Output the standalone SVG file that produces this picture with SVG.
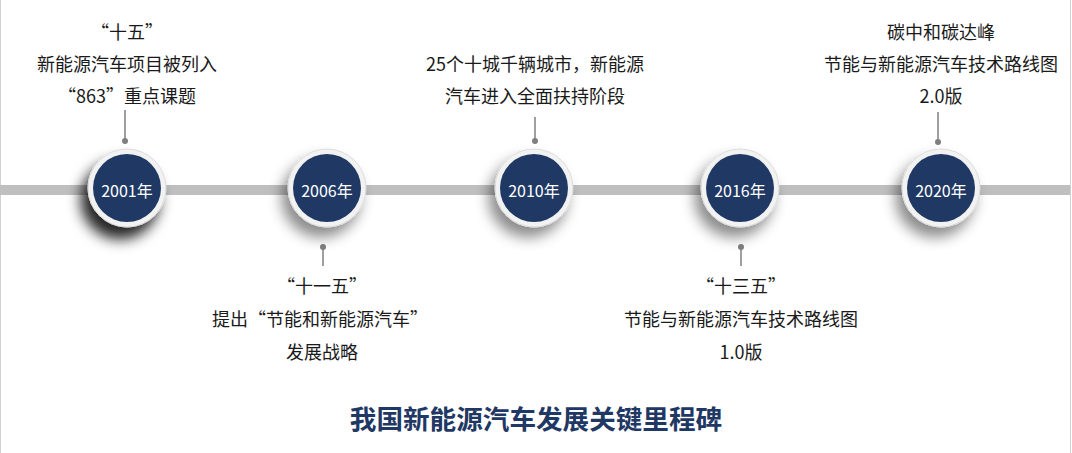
<svg xmlns="http://www.w3.org/2000/svg" width="1072" height="453" viewBox="0 0 1072 453">
<defs>
<style>
.lbl{font-family:"Noto Sans CJK SC","Microsoft YaHei",sans-serif;font-size:18px;fill:#1a1a1a;text-anchor:middle}
.yr{font-family:"Noto Sans CJK SC",sans-serif;font-size:16px;fill:#ffffff;text-anchor:middle}
.ttl{font-family:"Noto Sans CJK SC",sans-serif;font-size:26.6px;font-weight:bold;fill:#1f3864;text-anchor:middle}
.ring{fill:#f2f2f2;stroke:#dcdcdc;stroke-width:1}
.core{fill:#1f3864}
.conn{stroke:#7f7f7f;stroke-width:1.5;fill:none}
.dot{fill:#7f7f7f}
</style>
<filter id="sh" x="-60%" y="-60%" width="220%" height="220%">
<feDropShadow dx="-6" dy="10" stdDeviation="7" flood-color="#000" flood-opacity="0.45"/>
</filter>
<filter id="shd" x="-60%" y="-60%" width="220%" height="220%">
<feDropShadow dx="-7" dy="12" stdDeviation="7" flood-color="#000" flood-opacity="0.85"/>
</filter>
</defs>
<rect x="0" y="0" width="1072" height="453" fill="#ffffff"/>
<line x1="0.5" y1="0" x2="0.5" y2="453" stroke="#d0d0d0" stroke-width="1"/>
<line x1="1070.5" y1="0" x2="1070.5" y2="453" stroke="#d0d0d0" stroke-width="1"/>
<rect id="bar" x="0" y="185" width="1070" height="10" fill="#bfbfbf"/>
<g id="connectors">
<line class="conn" x1="125" y1="110" x2="125" y2="141"/><circle class="dot" cx="125" cy="141" r="3"/>
<line class="conn" x1="323" y1="247" x2="323" y2="266"/><circle class="dot" cx="323" cy="247" r="3"/>
<line class="conn" x1="535" y1="117" x2="535" y2="141"/><circle class="dot" cx="535" cy="141" r="3"/>
<line class="conn" x1="741" y1="247" x2="741" y2="266"/><circle class="dot" cx="741" cy="247" r="3"/>
<line class="conn" x1="938" y1="112" x2="938" y2="142"/><circle class="dot" cx="938" cy="142" r="3"/>
</g>
<g id="n2001">
<circle class="ring" cx="127" cy="188" r="39" filter="url(#shd)"/>
<circle class="core" cx="127" cy="188" r="34"/>
<text class="yr" x="127" y="197">2001年</text>
<text class="lbl" x="127" y="39">“十五”</text>
<text class="lbl" x="127" y="71">新能源汽车项目被列入</text>
<text class="lbl" x="127" y="103">“863”重点课题</text>
</g>
<g id="n2006">
<circle class="ring" cx="327" cy="188" r="39" filter="url(#sh)"/>
<circle class="core" cx="327" cy="188" r="34"/>
<text class="yr" x="327" y="197">2006年</text>
<text class="lbl" x="322" y="293">“十一五”</text>
<text class="lbl" x="320" y="326">提出“节能和新能源汽车”</text>
<text class="lbl" x="322" y="359">发展战略</text>
</g>
<g id="n2010">
<circle class="ring" cx="534" cy="188" r="39" filter="url(#sh)"/>
<circle class="core" cx="534" cy="188" r="34"/>
<text class="yr" x="534" y="197">2010年</text>
<text class="lbl" x="535" y="71">25个十城千辆城市，新能源</text>
<text class="lbl" x="535" y="103">汽车进入全面扶持阶段</text>
</g>
<g id="n2016">
<circle class="ring" cx="740" cy="188" r="39" filter="url(#sh)"/>
<circle class="core" cx="740" cy="188" r="34"/>
<text class="yr" x="740" y="197">2016年</text>
<text class="lbl" x="741" y="293">“十三五”</text>
<text class="lbl" x="741" y="326">节能与新能源汽车技术路线图</text>
<text class="lbl" x="741" y="359">1.0版</text>
</g>
<g id="n2020">
<circle class="ring" cx="941" cy="188" r="39" filter="url(#sh)"/>
<circle class="core" cx="941" cy="188" r="34"/>
<text class="yr" x="941" y="197">2020年</text>
<text class="lbl" x="941" y="39">碳中和碳达峰</text>
<text class="lbl" x="941" y="71">节能与新能源汽车技术路线图</text>
<text class="lbl" x="941" y="103">2.0版</text>
</g>
<text id="title" class="ttl" x="536" y="429">我国新能源汽车发展关键里程碑</text>
</svg>
